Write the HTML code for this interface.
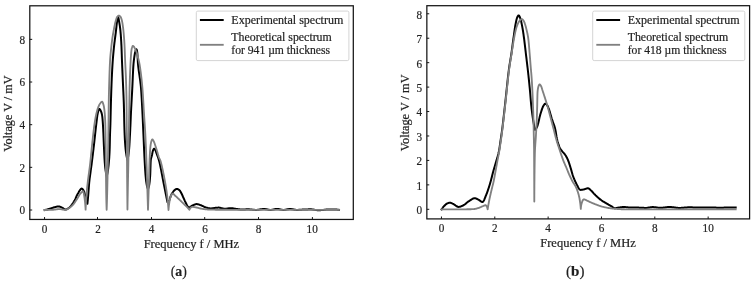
<!DOCTYPE html>
<html lang="en"><head><meta charset="utf-8"><title>Spectra</title>
<style>html,body{margin:0;padding:0;background:#fff}svg{display:block}text{stroke:#1f1f1f;stroke-width:.2px}</style></head>
<body>
<svg width="754" height="283" viewBox="0 0 754 283" font-family="'Liberation Serif', 'DejaVu Serif', serif" fill="#1f1f1f">
<rect x="0" y="0" width="754" height="283" fill="#ffffff"/>
<g id="plot-a">
<g fill="none" stroke-linejoin="round" stroke-linecap="square">
<path d="M44.65 210.00L45.10 209.90L45.56 209.81L46.01 209.71L46.46 209.60L46.91 209.50L47.35 209.39L47.80 209.28L48.24 209.17L48.68 209.05L49.12 208.94L49.56 208.82L50.00 208.70L50.43 208.58L50.85 208.44L51.28 208.30L51.71 208.16L52.14 208.01L52.56 207.86L52.98 207.71L53.40 207.57L53.81 207.44L54.21 207.31L54.61 207.20L55.00 207.10L55.32 207.02L55.63 206.94L55.94 206.86L56.24 206.78L56.55 206.71L56.84 206.64L57.14 206.57L57.43 206.51L57.72 206.47L58.02 206.43L58.31 206.41L58.60 206.40L58.89 206.41L59.18 206.46L59.46 206.52L59.75 206.60L60.03 206.71L60.31 206.82L60.60 206.94L60.88 207.08L61.16 207.21L61.44 207.34L61.72 207.48L62.00 207.60L62.29 207.74L62.59 207.92L62.88 208.11L63.17 208.32L63.46 208.53L63.75 208.74L64.04 208.94L64.33 209.12L64.62 209.27L64.92 209.39L65.21 209.47L65.50 209.50L65.79 209.48L66.08 209.43L66.37 209.35L66.66 209.24L66.96 209.10L67.25 208.95L67.54 208.78L67.83 208.59L68.13 208.40L68.42 208.20L68.71 208.00L69.00 207.80L69.42 207.48L69.85 207.10L70.28 206.66L70.72 206.17L71.16 205.64L71.59 205.08L72.02 204.50L72.44 203.90L72.85 203.29L73.25 202.69L73.63 202.09L74.00 201.50L74.37 200.87L74.73 200.21L75.07 199.52L75.40 198.82L75.72 198.10L76.04 197.38L76.35 196.67L76.67 195.96L76.99 195.27L77.32 194.61L77.65 193.99L78.00 193.40L78.30 192.92L78.60 192.40L78.91 191.87L79.23 191.33L79.55 190.81L79.87 190.31L80.20 189.84L80.51 189.43L80.82 189.09L81.13 188.83L81.42 188.66L81.70 188.60L81.91 188.63L82.12 188.72L82.34 188.87L82.54 189.06L82.75 189.29L82.95 189.55L83.15 189.84L83.34 190.14L83.52 190.46L83.69 190.78L83.85 191.09L84.00 191.40L84.21 191.88L84.40 192.44L84.59 193.05L84.76 193.71L84.92 194.41L85.08 195.13L85.24 195.85L85.39 196.58L85.54 197.29L85.69 197.97L85.84 198.61L86.00 199.20L86.12 199.63L86.24 200.05L86.36 200.46L86.48 200.87L86.60 201.26L86.72 201.65L86.83 202.03L86.95 202.40L87.06 202.77L87.18 203.12L87.29 203.46L87.40 203.80L87.47 203.18L87.53 202.54L87.60 201.89L87.67 201.23L87.73 200.56L87.80 199.87L87.87 199.17L87.93 198.46L88.00 197.74L88.07 197.00L88.13 196.26L88.20 195.50L88.28 194.54L88.36 193.56L88.43 192.55L88.51 191.52L88.58 190.47L88.66 189.40L88.74 188.32L88.82 187.22L88.91 186.11L89.00 184.98L89.09 183.84L89.20 182.70L89.34 181.32L89.50 179.91L89.67 178.47L89.86 177.00L90.06 175.51L90.27 174.01L90.48 172.50L90.69 170.98L90.90 169.47L91.11 167.96L91.31 166.47L91.50 165.00L91.68 163.58L91.86 162.18L92.03 160.79L92.20 159.41L92.38 158.04L92.55 156.66L92.72 155.27L92.89 153.86L93.07 152.44L93.24 150.99L93.42 149.52L93.60 148.00L93.82 146.12L94.05 144.13L94.28 142.06L94.51 139.93L94.74 137.78L94.98 135.62L95.21 133.48L95.44 131.39L95.67 129.37L95.89 127.45L96.10 125.65L96.30 124.00L96.43 122.97L96.54 121.97L96.65 120.99L96.76 120.03L96.87 119.11L96.97 118.21L97.08 117.34L97.19 116.50L97.30 115.70L97.43 114.93L97.56 114.20L97.70 113.50L97.80 113.02L97.92 112.52L98.04 112.01L98.16 111.49L98.29 110.99L98.43 110.51L98.57 110.07L98.71 109.68L98.85 109.36L99.00 109.11L99.15 108.96L99.30 108.90L99.40 108.92L99.51 108.97L99.61 109.05L99.73 109.16L99.84 109.29L99.96 109.44L100.07 109.61L100.18 109.78L100.29 109.96L100.40 110.14L100.50 110.32L100.60 110.50L100.75 110.78L100.89 111.10L101.04 111.44L101.18 111.81L101.32 112.20L101.46 112.61L101.59 113.04L101.71 113.48L101.82 113.92L101.93 114.38L102.02 114.84L102.10 115.30L102.19 115.91L102.28 116.54L102.35 117.18L102.43 117.84L102.49 118.53L102.55 119.23L102.61 119.95L102.67 120.71L102.73 121.48L102.78 122.29L102.84 123.13L102.90 124.00L103.00 125.58L103.10 127.37L103.20 129.31L103.29 131.38L103.39 133.54L103.48 135.75L103.57 137.97L103.66 140.17L103.75 142.31L103.84 144.35L103.92 146.26L104.00 148.00L104.05 149.14L104.11 150.24L104.15 151.31L104.20 152.35L104.25 153.36L104.29 154.35L104.34 155.32L104.39 156.27L104.44 157.22L104.49 158.15L104.54 159.07L104.60 160.00L104.65 160.80L104.71 161.58L104.77 162.36L104.82 163.13L104.89 163.88L104.95 164.63L105.02 165.38L105.09 166.11L105.16 166.84L105.23 167.57L105.32 168.29L105.40 169.00L105.48 169.65L105.57 170.30L105.67 170.94L105.77 171.58L105.88 172.21L105.99 172.84L106.11 173.46L106.23 174.08L106.35 174.69L106.48 175.30L106.61 175.90L106.75 176.50L106.87 175.97L106.99 175.44L107.11 174.90L107.22 174.36L107.33 173.83L107.44 173.28L107.54 172.74L107.64 172.20L107.74 171.65L107.83 171.10L107.92 170.55L108.00 170.00L108.08 169.43L108.16 168.86L108.23 168.28L108.30 167.71L108.37 167.13L108.44 166.55L108.51 165.97L108.57 165.38L108.63 164.79L108.69 164.20L108.74 163.60L108.80 163.00L108.86 162.35L108.92 161.69L108.97 161.03L109.03 160.35L109.08 159.68L109.14 159.00L109.19 158.32L109.23 157.65L109.28 156.98L109.32 156.31L109.36 155.65L109.40 155.00L109.43 154.41L109.46 153.83L109.49 153.27L109.52 152.71L109.54 152.15L109.57 151.60L109.59 151.04L109.61 150.47L109.64 149.88L109.66 149.28L109.68 148.65L109.70 148.00L109.73 147.06L109.75 146.06L109.78 145.02L109.80 143.93L109.83 142.82L109.85 141.69L109.87 140.55L109.90 139.41L109.92 138.27L109.94 137.15L109.97 136.06L110.00 135.00L110.03 134.06L110.06 133.16L110.09 132.28L110.12 131.41L110.16 130.55L110.19 129.69L110.23 128.82L110.26 127.92L110.30 127.00L110.33 126.05L110.37 125.05L110.40 124.00L110.45 122.33L110.50 120.54L110.55 118.63L110.59 116.64L110.64 114.58L110.69 112.47L110.74 110.33L110.79 108.20L110.84 106.07L110.89 103.98L110.94 101.95L111.00 100.00L111.05 98.27L111.10 96.56L111.16 94.87L111.21 93.20L111.26 91.54L111.32 89.89L111.38 88.24L111.44 86.60L111.50 84.96L111.56 83.31L111.63 81.66L111.70 80.00L111.77 78.32L111.85 76.63L111.93 74.93L112.01 73.22L112.10 71.52L112.19 69.81L112.29 68.12L112.38 66.45L112.48 64.79L112.59 63.16L112.69 61.56L112.80 60.00L112.90 58.67L113.00 57.37L113.11 56.08L113.22 54.81L113.33 53.56L113.45 52.32L113.57 51.08L113.69 49.86L113.81 48.64L113.94 47.43L114.07 46.21L114.20 45.00L114.33 43.84L114.46 42.68L114.61 41.52L114.75 40.36L114.90 39.20L115.05 38.05L115.20 36.92L115.35 35.79L115.50 34.69L115.64 33.60L115.77 32.54L115.90 31.50L116.00 30.64L116.10 29.79L116.19 28.94L116.28 28.10L116.37 27.27L116.45 26.45L116.54 25.66L116.63 24.88L116.71 24.12L116.81 23.38L116.90 22.68L117.00 22.00L117.08 21.49L117.15 20.94L117.23 20.38L117.31 19.81L117.39 19.25L117.48 18.72L117.56 18.23L117.65 17.79L117.73 17.42L117.82 17.14L117.91 16.96L118.00 16.90L118.09 16.96L118.19 17.14L118.29 17.42L118.39 17.79L118.50 18.22L118.60 18.72L118.71 19.25L118.81 19.81L118.91 20.38L119.01 20.94L119.11 21.49L119.20 22.00L119.32 22.68L119.44 23.38L119.56 24.12L119.68 24.87L119.80 25.65L119.91 26.45L120.02 27.27L120.13 28.10L120.23 28.94L120.33 29.79L120.42 30.64L120.50 31.50L120.59 32.54L120.68 33.60L120.77 34.68L120.85 35.79L120.93 36.91L121.01 38.05L121.08 39.20L121.15 40.36L121.22 41.52L121.28 42.68L121.34 43.84L121.40 45.00L121.46 46.22L121.51 47.43L121.55 48.64L121.60 49.86L121.64 51.09L121.68 52.32L121.72 53.56L121.77 54.81L121.81 56.08L121.85 57.37L121.90 58.67L121.95 60.00L122.01 61.56L122.08 63.13L122.14 64.73L122.21 66.35L122.28 68.00L122.35 69.66L122.43 71.34L122.50 73.04L122.57 74.75L122.65 76.48L122.72 78.23L122.80 80.00L122.89 82.06L122.99 84.19L123.09 86.37L123.19 88.59L123.29 90.83L123.40 93.09L123.50 95.34L123.59 97.57L123.68 99.76L123.77 101.91L123.84 103.99L123.90 106.00L123.94 107.62L123.98 109.21L124.02 110.78L124.05 112.32L124.08 113.84L124.11 115.34L124.14 116.82L124.17 118.29L124.20 119.74L124.23 121.17L124.26 122.59L124.30 124.00L124.33 125.23L124.37 126.46L124.41 127.68L124.44 128.88L124.48 130.08L124.52 131.26L124.56 132.43L124.61 133.58L124.65 134.71L124.70 135.83L124.75 136.92L124.80 138.00L124.85 138.90L124.89 139.78L124.94 140.66L125.00 141.52L125.05 142.38L125.11 143.22L125.17 144.05L125.23 144.86L125.30 145.67L125.36 146.46L125.43 147.24L125.50 148.00L125.56 148.63L125.63 149.25L125.69 149.87L125.76 150.47L125.83 151.07L125.91 151.65L125.99 152.23L126.06 152.80L126.15 153.37L126.23 153.92L126.31 154.46L126.40 155.00L126.48 155.45L126.55 155.89L126.63 156.33L126.72 156.76L126.80 157.19L126.89 157.61L126.98 158.02L127.07 158.43L127.16 158.83L127.26 159.23L127.35 159.62L127.45 160.00L127.54 159.62L127.63 159.23L127.71 158.83L127.80 158.43L127.88 158.02L127.96 157.61L128.04 157.19L128.12 156.76L128.19 156.33L128.26 155.89L128.33 155.45L128.40 155.00L128.48 154.46L128.55 153.92L128.63 153.37L128.70 152.80L128.77 152.23L128.84 151.65L128.91 151.07L128.97 150.47L129.03 149.87L129.09 149.25L129.15 148.63L129.20 148.00L129.26 147.23L129.32 146.45L129.37 145.65L129.42 144.84L129.47 144.01L129.52 143.17L129.57 142.32L129.61 141.47L129.66 140.61L129.71 139.74L129.75 138.87L129.80 138.00L129.85 137.04L129.90 136.07L129.95 135.10L130.01 134.12L130.06 133.13L130.11 132.13L130.16 131.12L130.21 130.11L130.25 129.09L130.30 128.07L130.35 127.04L130.40 126.00L130.45 124.88L130.50 123.77L130.55 122.66L130.59 121.55L130.64 120.42L130.69 119.29L130.73 118.14L130.78 116.97L130.83 115.78L130.88 114.55L130.94 113.29L131.00 112.00L131.09 110.23L131.18 108.39L131.28 106.47L131.39 104.49L131.50 102.47L131.62 100.42L131.73 98.34L131.85 96.25L131.97 94.16L132.08 92.08L132.19 90.02L132.30 88.00L132.40 85.97L132.50 83.87L132.59 81.74L132.68 79.59L132.77 77.44L132.86 75.31L132.96 73.22L133.05 71.19L133.16 69.23L133.26 67.36L133.38 65.62L133.50 64.00L133.59 63.01L133.68 62.04L133.78 61.09L133.89 60.17L134.00 59.27L134.11 58.41L134.22 57.57L134.34 56.78L134.46 56.02L134.57 55.30L134.69 54.63L134.80 54.00L134.86 53.64L134.93 53.30L134.99 52.96L135.05 52.63L135.11 52.31L135.17 52.01L135.24 51.72L135.30 51.44L135.37 51.18L135.44 50.94L135.52 50.71L135.60 50.50L135.66 50.37L135.72 50.23L135.78 50.10L135.85 49.96L135.92 49.83L135.99 49.71L136.07 49.60L136.14 49.50L136.21 49.42L136.28 49.35L136.34 49.31L136.40 49.30L136.48 49.33L136.56 49.42L136.63 49.56L136.71 49.74L136.78 49.96L136.85 50.21L136.92 50.48L136.98 50.78L137.04 51.08L137.10 51.39L137.15 51.70L137.20 52.00L137.29 52.66L137.36 53.41L137.43 54.25L137.49 55.16L137.55 56.14L137.60 57.18L137.65 58.25L137.71 59.37L137.77 60.51L137.84 61.67L137.91 62.84L138.00 64.00L138.16 65.70L138.36 67.50L138.60 69.40L138.87 71.36L139.16 73.39L139.46 75.46L139.76 77.56L140.06 79.68L140.34 81.79L140.59 83.90L140.82 85.97L141.00 88.00L141.15 90.00L141.30 92.00L141.43 93.99L141.55 95.99L141.67 97.99L141.78 99.99L141.89 102.00L142.00 104.00L142.10 106.00L142.20 108.00L142.30 110.00L142.40 112.00L142.50 114.00L142.60 116.00L142.69 118.00L142.79 120.00L142.88 122.00L142.97 124.00L143.06 126.00L143.14 128.00L143.23 130.00L143.32 132.00L143.41 134.00L143.50 136.00L143.59 138.01L143.68 140.04L143.77 142.08L143.86 144.13L143.95 146.18L144.03 148.22L144.12 150.25L144.21 152.26L144.31 154.25L144.40 156.20L144.50 158.12L144.60 160.00L144.69 161.61L144.78 163.23L144.87 164.86L144.96 166.47L145.05 168.07L145.15 169.64L145.25 171.17L145.35 172.66L145.46 174.10L145.57 175.47L145.68 176.78L145.80 178.00L145.88 178.78L145.97 179.55L146.06 180.31L146.15 181.04L146.25 181.76L146.35 182.45L146.45 183.12L146.56 183.76L146.66 184.37L146.77 184.95L146.89 185.49L147.00 186.00L147.07 186.30L147.15 186.60L147.23 186.88L147.31 187.16L147.39 187.42L147.47 187.68L147.56 187.93L147.64 188.16L147.73 188.39L147.82 188.60L147.91 188.81L148.00 189.00L148.12 188.74L148.23 188.46L148.35 188.17L148.46 187.87L148.57 187.56L148.67 187.23L148.77 186.88L148.87 186.53L148.96 186.17L149.04 185.79L149.13 185.40L149.20 185.00L149.31 184.35L149.41 183.64L149.51 182.89L149.61 182.11L149.70 181.28L149.78 180.43L149.86 179.56L149.94 178.66L150.01 177.75L150.08 176.84L150.14 175.92L150.20 175.00L150.26 173.83L150.32 172.57L150.36 171.25L150.40 169.88L150.44 168.49L150.48 167.10L150.52 165.73L150.56 164.41L150.61 163.15L150.66 161.98L150.73 160.93L150.80 160.00L150.85 159.54L150.92 159.12L151.00 158.71L151.09 158.33L151.18 157.97L151.28 157.62L151.39 157.27L151.50 156.93L151.60 156.59L151.71 156.24L151.81 155.88L151.90 155.50L151.99 155.08L152.08 154.65L152.16 154.20L152.25 153.74L152.33 153.28L152.42 152.83L152.50 152.38L152.59 151.95L152.68 151.54L152.78 151.16L152.89 150.81L153.00 150.50L153.08 150.31L153.17 150.10L153.26 149.90L153.36 149.70L153.46 149.50L153.56 149.32L153.67 149.15L153.78 149.00L153.88 148.87L153.99 148.78L154.10 148.72L154.20 148.70L154.29 148.72L154.38 148.76L154.48 148.83L154.57 148.92L154.67 149.02L154.76 149.14L154.86 149.28L154.95 149.42L155.04 149.57L155.13 149.71L155.22 149.86L155.30 150.00L155.42 150.21L155.53 150.45L155.64 150.70L155.74 150.97L155.85 151.26L155.95 151.55L156.05 151.86L156.15 152.18L156.26 152.50L156.37 152.83L156.48 153.17L156.60 153.50L156.77 153.96L156.94 154.42L157.13 154.89L157.31 155.38L157.50 155.88L157.70 156.40L157.90 156.94L158.10 157.49L158.30 158.08L158.50 158.69L158.70 159.33L158.90 160.00L159.27 161.38L159.66 162.99L160.06 164.79L160.47 166.73L160.88 168.77L161.29 170.88L161.70 173.00L162.09 175.11L162.47 177.15L162.84 179.09L163.18 180.89L163.50 182.50L163.70 183.51L163.90 184.47L164.08 185.40L164.26 186.29L164.43 187.17L164.60 188.02L164.77 188.86L164.93 189.68L165.10 190.51L165.26 191.33L165.43 192.16L165.60 193.00L165.76 193.80L165.92 194.59L166.08 195.38L166.24 196.16L166.40 196.94L166.56 197.72L166.72 198.49L166.87 199.26L167.03 200.03L167.19 200.79L167.34 201.55L167.50 202.30L167.61 202.25L167.72 202.19L167.83 202.12L167.94 202.05L168.04 201.97L168.14 201.89L168.24 201.80L168.34 201.71L168.43 201.61L168.53 201.51L168.61 201.41L168.70 201.30L168.82 201.14L168.93 200.95L169.03 200.74L169.13 200.52L169.23 200.28L169.33 200.04L169.43 199.78L169.52 199.52L169.62 199.26L169.71 199.00L169.80 198.75L169.90 198.50L170.00 198.23L170.10 197.96L170.20 197.68L170.29 197.40L170.39 197.12L170.49 196.83L170.58 196.55L170.68 196.27L170.78 195.99L170.88 195.72L170.99 195.46L171.10 195.20L171.20 194.98L171.31 194.76L171.41 194.54L171.52 194.33L171.64 194.12L171.75 193.92L171.87 193.71L171.99 193.51L172.11 193.31L172.24 193.11L172.37 192.90L172.50 192.70L172.65 192.47L172.80 192.24L172.97 192.00L173.13 191.76L173.30 191.53L173.48 191.29L173.66 191.06L173.84 190.84L174.03 190.63L174.22 190.44L174.41 190.26L174.60 190.10L174.77 189.97L174.95 189.83L175.14 189.69L175.33 189.56L175.52 189.43L175.72 189.30L175.92 189.19L176.11 189.10L176.31 189.01L176.51 188.95L176.71 188.91L176.90 188.90L177.09 188.91L177.29 188.95L177.49 189.00L177.69 189.07L177.88 189.16L178.08 189.26L178.28 189.37L178.47 189.49L178.66 189.61L178.85 189.74L179.03 189.87L179.20 190.00L179.41 190.18L179.62 190.40L179.83 190.65L180.03 190.92L180.22 191.21L180.42 191.53L180.61 191.85L180.79 192.18L180.97 192.52L181.15 192.85L181.33 193.18L181.50 193.50L181.68 193.84L181.86 194.19L182.02 194.54L182.19 194.90L182.35 195.26L182.51 195.63L182.67 196.00L182.83 196.38L182.99 196.76L183.16 197.14L183.33 197.52L183.50 197.90L183.70 198.33L183.89 198.76L184.09 199.21L184.29 199.66L184.50 200.11L184.70 200.57L184.91 201.02L185.12 201.47L185.34 201.92L185.56 202.35L185.78 202.78L186.00 203.20L186.21 203.61L186.42 204.05L186.63 204.52L186.84 205.00L187.06 205.47L187.28 205.92L187.50 206.35L187.73 206.73L187.97 207.04L188.22 207.29L188.48 207.44L188.75 207.50L189.01 207.47L189.29 207.39L189.58 207.26L189.88 207.10L190.19 206.91L190.51 206.70L190.84 206.48L191.17 206.26L191.51 206.04L191.84 205.84L192.17 205.65L192.50 205.50L192.83 205.36L193.16 205.20L193.50 205.05L193.84 204.89L194.18 204.74L194.52 204.59L194.86 204.46L195.21 204.34L195.55 204.24L195.90 204.17L196.25 204.12L196.60 204.10L196.96 204.11L197.32 204.15L197.68 204.22L198.05 204.30L198.41 204.40L198.78 204.51L199.15 204.64L199.51 204.77L199.88 204.90L200.25 205.04L200.63 205.17L201.00 205.30L201.41 205.45L201.82 205.62L202.23 205.81L202.65 206.02L203.06 206.23L203.48 206.44L203.90 206.65L204.32 206.86L204.74 207.05L205.16 207.22L205.58 207.38L206.00 207.50L206.41 207.61L206.81 207.71L207.23 207.82L207.64 207.92L208.05 208.02L208.47 208.11L208.88 208.19L209.29 208.26L209.70 208.32L210.11 208.36L210.51 208.39L210.90 208.40L211.25 208.39L211.60 208.37L211.95 208.34L212.30 208.30L212.64 208.25L212.98 208.20L213.32 208.14L213.66 208.09L213.99 208.03L214.33 207.98L214.66 207.94L215.00 207.90L215.32 207.87L215.65 207.84L215.97 207.80L216.29 207.77L216.61 207.73L216.93 207.70L217.25 207.68L217.57 207.65L217.88 207.63L218.19 207.61L218.50 207.60L218.80 207.60L219.08 207.61L219.35 207.64L219.62 207.68L219.89 207.74L220.15 207.80L220.42 207.88L220.68 207.95L220.94 208.03L221.21 208.11L221.47 208.18L221.73 208.25L222.00 208.30L222.27 208.35L222.53 208.40L222.80 208.46L223.07 208.52L223.34 208.57L223.61 208.62L223.88 208.67L224.15 208.71L224.41 208.75L224.68 208.78L224.94 208.79L225.20 208.80L225.44 208.79L225.67 208.78L225.91 208.75L226.14 208.71L226.36 208.67L226.59 208.63L226.82 208.59L227.05 208.54L227.28 208.50L227.52 208.46L227.76 208.43L228.00 208.40L228.28 208.38L228.55 208.35L228.84 208.33L229.12 208.31L229.41 208.29L229.70 208.27L229.99 208.25L230.29 208.23L230.59 208.22L230.89 208.21L231.19 208.20L231.50 208.20L231.85 208.21L232.21 208.24L232.57 208.28L232.94 208.34L233.30 208.40L233.68 208.48L234.05 208.55L234.43 208.63L234.82 208.71L235.21 208.78L235.60 208.84L236.00 208.90L236.47 208.96L236.95 209.02L237.44 209.09L237.93 209.16L238.44 209.22L238.94 209.29L239.45 209.34L239.97 209.40L240.48 209.44L240.99 209.47L241.50 209.49L242.00 209.50L242.50 209.50L242.99 209.49L243.48 209.47L243.97 209.45L244.46 209.42L244.95 209.40L245.44 209.38L245.94 209.35L246.44 209.33L246.95 209.31L247.47 209.30L248.00 209.30L248.63 209.31L249.27 209.34L249.92 209.39L250.58 209.46L251.25 209.53L251.93 209.60L252.61 209.67L253.29 209.74L253.97 209.81L254.65 209.86L255.33 209.89L256.00 209.90L256.67 209.88L257.34 209.83L258.02 209.76L258.70 209.67L259.38 209.56L260.05 209.45L260.73 209.34L261.40 209.23L262.06 209.14L262.72 209.07L263.36 209.02L264.00 209.00L264.57 209.02L265.12 209.07L265.67 209.14L266.22 209.23L266.76 209.34L267.29 209.45L267.83 209.56L268.36 209.67L268.89 209.76L269.42 209.83L269.96 209.88L270.50 209.90L271.04 209.88L271.58 209.83L272.13 209.74L272.67 209.64L273.21 209.52L273.75 209.40L274.29 209.28L274.83 209.16L275.38 209.06L275.92 208.97L276.46 208.92L277.00 208.90L277.54 208.92L278.08 208.97L278.62 209.06L279.17 209.16L279.71 209.28L280.25 209.40L280.79 209.52L281.33 209.64L281.87 209.74L282.42 209.83L282.96 209.88L283.50 209.90L284.04 209.88L284.58 209.83L285.12 209.76L285.66 209.67L286.20 209.56L286.73 209.45L287.27 209.34L287.82 209.23L288.36 209.14L288.90 209.07L289.45 209.02L290.00 209.00L290.57 209.02L291.15 209.07L291.73 209.14L292.31 209.23L292.90 209.34L293.48 209.45L294.07 209.56L294.66 209.67L295.24 209.76L295.83 209.83L296.42 209.88L297.00 209.90L297.58 209.89L298.17 209.88L298.75 209.85L299.34 209.81L299.92 209.77L300.51 209.73L301.09 209.68L301.68 209.64L302.26 209.59L302.84 209.56L303.42 209.52L304.00 209.50L304.56 209.48L305.12 209.46L305.67 209.45L306.22 209.43L306.78 209.41L307.33 209.40L307.88 209.38L308.43 209.37L308.99 209.36L309.55 209.36L310.12 209.35L310.70 209.35L311.33 209.37L311.96 209.41L312.60 209.48L313.23 209.57L313.88 209.67L314.52 209.77L315.18 209.88L315.84 209.98L316.51 210.07L317.19 210.14L317.89 210.18L318.60 210.20L319.48 210.18L320.39 210.14L321.33 210.07L322.29 209.99L323.27 209.90L324.25 209.80L325.24 209.70L326.22 209.61L327.20 209.53L328.15 209.46L329.09 209.42L330.00 209.40L330.79 209.40L331.57 209.41L332.35 209.42L333.12 209.44L333.88 209.46L334.63 209.48L335.38 209.52L336.12 209.56L336.85 209.61L337.57 209.66L338.29 209.73L339.00 209.80" stroke="#000000" stroke-width="2.0"/>
<path d="M44.65 210.00L45.26 210.00L45.87 209.99L46.48 209.98L47.09 209.97L47.71 209.96L48.32 209.94L48.93 209.92L49.54 209.90L50.16 209.87L50.77 209.85L51.39 209.83L52.00 209.80L52.63 209.76L53.28 209.71L53.94 209.65L54.61 209.57L55.27 209.49L55.93 209.41L56.58 209.33L57.22 209.26L57.83 209.19L58.42 209.14L58.98 209.11L59.50 209.10L59.84 209.11L60.16 209.13L60.48 209.16L60.78 209.19L61.08 209.24L61.37 209.29L61.65 209.34L61.93 209.40L62.20 209.45L62.47 209.51L62.74 209.56L63.00 209.60L63.22 209.63L63.43 209.67L63.64 209.70L63.85 209.73L64.05 209.77L64.26 209.80L64.45 209.83L64.65 209.87L64.84 209.90L65.03 209.93L65.22 209.97L65.40 210.00L66.04 209.72L66.67 209.41L67.29 209.10L67.90 208.76L68.49 208.41L69.06 208.05L69.63 207.67L70.17 207.28L70.71 206.88L71.22 206.46L71.72 206.04L72.20 205.60L72.67 205.14L73.12 204.64L73.57 204.11L73.99 203.55L74.41 202.98L74.82 202.39L75.21 201.80L75.60 201.20L75.98 200.61L76.36 200.03L76.73 199.45L77.10 198.90L77.43 198.40L77.74 197.89L78.05 197.36L78.36 196.83L78.66 196.30L78.95 195.78L79.25 195.28L79.54 194.80L79.83 194.34L80.12 193.92L80.41 193.54L80.70 193.20L80.90 192.99L81.11 192.77L81.32 192.55L81.54 192.34L81.76 192.13L81.97 191.94L82.17 191.76L82.37 191.61L82.55 191.48L82.72 191.38L82.87 191.32L83.00 191.30L83.15 191.36L83.29 191.54L83.42 191.82L83.54 192.18L83.65 192.62L83.75 193.11L83.85 193.65L83.95 194.22L84.04 194.80L84.13 195.39L84.21 195.96L84.30 196.50L84.43 197.35L84.56 198.24L84.69 199.18L84.81 200.17L84.93 201.20L85.05 202.27L85.15 203.39L85.26 204.55L85.35 205.75L85.44 206.99L85.53 208.28L85.60 209.60L85.66 208.33L85.72 207.08L85.79 205.83L85.86 204.59L85.93 203.36L86.00 202.14L86.08 200.93L86.16 199.72L86.24 198.53L86.33 197.34L86.41 196.17L86.50 195.00L86.58 193.94L86.67 192.91L86.76 191.90L86.85 190.90L86.94 189.91L87.04 188.92L87.14 187.92L87.24 186.92L87.35 185.90L87.46 184.86L87.58 183.80L87.70 182.70L87.85 181.35L88.02 179.97L88.20 178.57L88.39 177.15L88.59 175.71L88.79 174.24L88.99 172.75L89.20 171.24L89.41 169.71L89.61 168.16L89.81 166.59L90.00 165.00L90.22 163.06L90.44 161.05L90.66 158.97L90.87 156.85L91.09 154.70L91.30 152.54L91.52 150.37L91.73 148.21L91.95 146.08L92.16 143.99L92.38 141.96L92.60 140.00L92.79 138.35L92.97 136.70L93.16 135.06L93.34 133.44L93.52 131.84L93.71 130.26L93.90 128.71L94.09 127.19L94.28 125.70L94.48 124.26L94.69 122.85L94.90 121.50L95.07 120.48L95.24 119.47L95.42 118.48L95.59 117.51L95.78 116.55L95.96 115.62L96.15 114.71L96.35 113.82L96.55 112.96L96.76 112.11L96.98 111.29L97.20 110.50L97.38 109.88L97.57 109.26L97.77 108.65L97.98 108.04L98.19 107.45L98.40 106.87L98.62 106.32L98.85 105.78L99.08 105.28L99.32 104.82L99.56 104.39L99.80 104.00L99.97 103.75L100.16 103.49L100.36 103.22L100.56 102.96L100.76 102.71L100.97 102.48L101.18 102.26L101.37 102.08L101.57 101.92L101.75 101.80L101.91 101.73L102.06 101.70L102.19 101.73L102.31 101.82L102.43 101.96L102.54 102.14L102.65 102.35L102.76 102.59L102.86 102.85L102.96 103.13L103.05 103.41L103.14 103.68L103.22 103.95L103.30 104.20L103.39 104.51L103.48 104.82L103.57 105.14L103.65 105.48L103.73 105.82L103.81 106.18L103.88 106.54L103.95 106.91L104.01 107.29L104.08 107.69L104.14 108.09L104.20 108.50L104.28 109.10L104.36 109.73L104.44 110.38L104.52 111.07L104.59 111.77L104.66 112.49L104.73 113.23L104.79 113.97L104.85 114.73L104.91 115.48L104.96 116.24L105.00 117.00L105.05 117.86L105.09 118.71L105.13 119.57L105.17 120.44L105.20 121.32L105.23 122.22L105.27 123.12L105.29 124.05L105.32 125.00L105.35 125.97L105.38 126.97L105.40 128.00L105.43 129.44L105.46 130.95L105.49 132.52L105.52 134.14L105.54 135.80L105.57 137.50L105.59 139.23L105.61 140.97L105.63 142.73L105.66 144.49L105.68 146.25L105.70 148.00L105.72 149.92L105.75 151.87L105.77 153.84L105.79 155.84L105.81 157.84L105.83 159.86L105.85 161.89L105.87 163.92L105.89 165.95L105.91 167.97L105.93 169.99L105.95 172.00L105.97 174.02L105.99 176.08L106.02 178.16L106.04 180.25L106.06 182.35L106.09 184.43L106.11 186.49L106.14 188.51L106.16 190.48L106.19 192.40L106.22 194.24L106.25 196.00L106.28 197.29L106.30 198.55L106.33 199.79L106.36 201.01L106.39 202.20L106.43 203.36L106.46 204.50L106.50 205.61L106.53 206.70L106.57 207.76L106.61 208.79L106.65 209.80L106.69 208.79L106.73 207.76L106.77 206.70L106.80 205.61L106.84 204.50L106.88 203.36L106.92 202.20L106.95 201.01L106.99 199.79L107.03 198.55L107.06 197.29L107.10 196.00L107.15 194.24L107.19 192.40L107.24 190.48L107.29 188.51L107.33 186.49L107.38 184.43L107.43 182.35L107.47 180.25L107.52 178.16L107.56 176.08L107.61 174.02L107.65 172.00L107.69 170.00L107.74 168.00L107.78 166.00L107.83 164.00L107.87 162.00L107.91 160.00L107.96 158.00L108.00 156.00L108.04 154.00L108.08 152.00L108.11 150.00L108.15 148.00L108.18 146.00L108.22 144.00L108.25 142.00L108.28 140.00L108.31 138.00L108.34 136.00L108.36 134.00L108.39 132.00L108.42 130.00L108.45 128.00L108.47 126.00L108.50 124.00L108.53 121.99L108.55 119.97L108.57 117.95L108.60 115.92L108.62 113.89L108.64 111.86L108.66 109.84L108.69 107.84L108.71 105.84L108.74 103.87L108.77 101.92L108.80 100.00L108.83 98.27L108.86 96.56L108.90 94.87L108.94 93.20L108.98 91.54L109.02 89.89L109.06 88.24L109.11 86.60L109.15 84.96L109.20 83.31L109.25 81.66L109.30 80.00L109.35 78.32L109.41 76.61L109.46 74.88L109.52 73.14L109.58 71.40L109.65 69.67L109.71 67.96L109.78 66.27L109.86 64.63L109.94 63.03L110.02 61.48L110.10 60.00L110.17 58.89L110.25 57.82L110.33 56.77L110.42 55.74L110.51 54.74L110.60 53.75L110.70 52.77L110.80 51.81L110.90 50.85L111.00 49.90L111.10 48.95L111.20 48.00L111.29 47.13L111.39 46.25L111.48 45.38L111.58 44.52L111.68 43.65L111.78 42.80L111.88 41.96L111.98 41.13L112.08 40.32L112.19 39.53L112.29 38.75L112.40 38.00L112.49 37.42L112.57 36.85L112.65 36.31L112.74 35.79L112.83 35.27L112.91 34.76L113.00 34.24L113.09 33.72L113.19 33.20L113.29 32.65L113.39 32.09L113.50 31.50L113.65 30.70L113.81 29.84L113.97 28.93L114.15 28.00L114.33 27.04L114.52 26.08L114.71 25.13L114.91 24.21L115.11 23.32L115.31 22.48L115.50 21.70L115.70 21.00L115.83 20.58L115.95 20.16L116.07 19.74L116.20 19.34L116.32 18.95L116.45 18.57L116.58 18.21L116.71 17.88L116.85 17.56L116.99 17.28L117.14 17.02L117.30 16.80L117.41 16.66L117.53 16.52L117.65 16.38L117.77 16.25L117.90 16.12L118.04 16.00L118.17 15.89L118.31 15.79L118.44 15.71L118.58 15.65L118.72 15.61L118.85 15.60L118.99 15.61L119.13 15.65L119.28 15.71L119.42 15.79L119.57 15.88L119.72 15.99L119.86 16.12L120.00 16.25L120.14 16.38L120.27 16.52L120.39 16.66L120.50 16.80L120.65 17.02L120.80 17.27L120.94 17.56L121.08 17.87L121.21 18.21L121.34 18.57L121.46 18.94L121.57 19.33L121.69 19.74L121.79 20.15L121.90 20.58L122.00 21.00L122.15 21.69L122.30 22.43L122.44 23.23L122.58 24.06L122.71 24.94L122.84 25.84L122.96 26.77L123.08 27.71L123.19 28.66L123.30 29.61L123.40 30.56L123.50 31.50L123.60 32.56L123.70 33.64L123.80 34.73L123.89 35.84L123.98 36.96L124.07 38.09L124.15 39.23L124.23 40.38L124.30 41.53L124.37 42.69L124.44 43.84L124.50 45.00L124.56 46.21L124.62 47.43L124.67 48.64L124.72 49.86L124.77 51.09L124.81 52.32L124.86 53.56L124.90 54.81L124.95 56.08L125.00 57.37L125.05 58.67L125.10 60.00L125.17 61.56L125.24 63.16L125.32 64.79L125.40 66.45L125.48 68.13L125.57 69.82L125.65 71.52L125.73 73.22L125.81 74.93L125.88 76.63L125.94 78.32L126.00 80.00L126.05 81.65L126.10 83.26L126.15 84.85L126.20 86.43L126.25 88.01L126.29 89.60L126.33 91.21L126.37 92.86L126.40 94.55L126.44 96.30L126.47 98.11L126.50 100.00L126.54 102.83L126.57 105.83L126.61 108.99L126.64 112.27L126.67 115.65L126.69 119.10L126.72 122.61L126.75 126.13L126.77 129.66L126.80 133.17L126.82 136.62L126.85 140.00L126.88 143.35L126.90 146.74L126.93 150.14L126.95 153.56L126.98 156.98L127.00 160.38L127.02 163.77L127.05 167.12L127.07 170.43L127.10 173.69L127.12 176.88L127.15 180.00L127.17 182.63L127.20 185.24L127.22 187.81L127.25 190.35L127.27 192.87L127.29 195.35L127.32 197.80L127.35 200.22L127.37 202.61L127.40 204.97L127.42 207.30L127.45 209.60L127.49 207.56L127.52 205.51L127.56 203.47L127.59 201.42L127.63 199.37L127.67 197.32L127.71 195.27L127.75 193.22L127.78 191.17L127.82 189.11L127.86 187.06L127.90 185.00L127.94 182.92L127.98 180.84L128.02 178.75L128.07 176.66L128.11 174.57L128.15 172.48L128.20 170.39L128.24 168.30L128.28 166.22L128.32 164.14L128.36 162.07L128.40 160.00L128.44 157.98L128.47 155.97L128.51 153.97L128.54 151.96L128.57 149.97L128.61 147.97L128.64 145.98L128.67 143.98L128.70 141.99L128.73 139.99L128.77 138.00L128.80 136.00L128.83 134.00L128.87 132.00L128.90 130.00L128.93 128.00L128.97 126.00L129.00 124.00L129.03 122.00L129.07 120.00L129.10 118.00L129.13 116.00L129.17 114.00L129.20 112.00L129.23 110.00L129.26 108.00L129.29 106.00L129.32 104.00L129.35 102.00L129.38 100.00L129.41 98.00L129.44 96.00L129.48 94.00L129.52 92.00L129.56 90.00L129.60 88.00L129.65 85.97L129.71 83.89L129.77 81.78L129.84 79.65L129.92 77.52L130.00 75.41L130.08 73.33L130.17 71.30L130.25 69.34L130.34 67.46L130.42 65.67L130.50 64.00L130.55 62.91L130.61 61.84L130.66 60.79L130.71 59.77L130.77 58.78L130.82 57.82L130.88 56.88L130.94 55.98L131.00 55.11L131.06 54.27L131.13 53.47L131.20 52.70L131.25 52.19L131.30 51.69L131.36 51.19L131.42 50.70L131.48 50.23L131.54 49.77L131.61 49.33L131.68 48.91L131.75 48.51L131.83 48.14L131.91 47.81L132.00 47.50L132.06 47.33L132.12 47.14L132.18 46.96L132.25 46.78L132.33 46.61L132.40 46.44L132.48 46.29L132.56 46.16L132.65 46.05L132.73 45.97L132.82 45.92L132.90 45.90L132.97 45.91L133.04 45.93L133.11 45.97L133.19 46.02L133.27 46.07L133.35 46.14L133.43 46.21L133.51 46.29L133.58 46.37L133.66 46.45L133.73 46.52L133.80 46.60L133.88 46.69L133.96 46.79L134.03 46.90L134.11 47.01L134.18 47.13L134.25 47.26L134.32 47.39L134.39 47.52L134.47 47.66L134.54 47.80L134.62 47.95L134.70 48.10L134.84 48.35L134.98 48.62L135.13 48.91L135.29 49.22L135.45 49.54L135.61 49.87L135.77 50.22L135.92 50.57L136.08 50.92L136.23 51.28L136.37 51.64L136.50 52.00L136.64 52.42L136.78 52.85L136.91 53.28L137.04 53.73L137.17 54.19L137.29 54.65L137.41 55.12L137.53 55.59L137.64 56.06L137.76 56.54L137.88 57.02L138.00 57.50L138.13 58.01L138.26 58.51L138.38 59.00L138.51 59.49L138.63 59.98L138.76 60.49L138.88 61.01L139.00 61.54L139.13 62.11L139.25 62.70L139.37 63.33L139.50 64.00L139.75 65.43L140.00 67.05L140.26 68.85L140.53 70.78L140.80 72.83L141.06 74.97L141.32 77.17L141.57 79.39L141.80 81.61L142.02 83.81L142.22 85.95L142.40 88.00L142.56 90.00L142.71 92.00L142.84 94.00L142.97 96.00L143.09 98.00L143.21 100.00L143.32 102.00L143.44 104.00L143.55 106.00L143.66 108.00L143.78 110.00L143.90 112.00L144.03 114.00L144.16 116.00L144.29 118.00L144.42 120.00L144.56 122.00L144.69 124.00L144.82 126.00L144.94 128.00L145.07 130.00L145.18 132.00L145.30 134.00L145.40 136.00L145.50 138.00L145.59 140.00L145.68 142.00L145.77 144.00L145.86 146.00L145.94 148.00L146.02 150.00L146.10 152.00L146.17 154.00L146.25 156.00L146.33 158.00L146.40 160.00L146.47 162.00L146.54 163.99L146.61 165.98L146.68 167.97L146.75 169.96L146.81 171.95L146.88 173.94L146.94 175.94L147.01 177.94L147.07 179.95L147.13 181.97L147.20 184.00L147.27 186.11L147.34 188.23L147.40 190.36L147.47 192.50L147.54 194.64L147.60 196.78L147.67 198.94L147.74 201.10L147.80 203.26L147.87 205.44L147.93 207.61L148.00 209.80L148.04 208.57L148.08 207.34L148.13 206.11L148.17 204.88L148.21 203.65L148.25 202.41L148.29 201.18L148.33 199.94L148.38 198.71L148.42 197.47L148.46 196.24L148.50 195.00L148.54 193.76L148.58 192.53L148.62 191.31L148.67 190.09L148.71 188.86L148.75 187.64L148.79 186.40L148.83 185.16L148.87 183.90L148.92 182.62L148.96 181.32L149.00 180.00L149.05 178.42L149.10 176.78L149.14 175.08L149.19 173.36L149.24 171.61L149.28 169.85L149.33 168.11L149.38 166.38L149.43 164.70L149.49 163.06L149.54 161.49L149.60 160.00L149.65 158.89L149.70 157.79L149.74 156.70L149.80 155.64L149.85 154.60L149.90 153.58L149.96 152.58L150.02 151.61L150.09 150.66L150.15 149.74L150.22 148.86L150.30 148.00L150.36 147.38L150.42 146.76L150.49 146.15L150.56 145.54L150.64 144.95L150.72 144.37L150.81 143.82L150.90 143.29L150.99 142.79L151.09 142.32L151.19 141.89L151.30 141.50L151.37 141.27L151.45 141.04L151.53 140.80L151.61 140.56L151.70 140.33L151.80 140.12L151.89 139.92L151.99 139.75L152.09 139.60L152.20 139.49L152.30 139.42L152.40 139.40L152.51 139.42L152.62 139.50L152.73 139.61L152.85 139.75L152.97 139.93L153.09 140.12L153.21 140.34L153.33 140.57L153.45 140.81L153.57 141.04L153.69 141.28L153.80 141.50L153.97 141.85L154.14 142.22L154.30 142.62L154.46 143.04L154.62 143.48L154.79 143.95L154.95 144.43L155.11 144.92L155.28 145.43L155.45 145.94L155.62 146.47L155.80 147.00L156.06 147.81L156.34 148.71L156.64 149.70L156.94 150.73L157.24 151.79L157.55 152.86L157.85 153.91L158.15 154.91L158.44 155.84L158.71 156.69L158.97 157.41L159.20 158.00L159.29 158.21L159.38 158.39L159.47 158.56L159.55 158.71L159.62 158.85L159.70 158.98L159.78 159.12L159.85 159.26L159.93 159.41L160.02 159.58L160.11 159.78L160.20 160.00L160.55 161.01L160.96 162.41L161.40 164.15L161.88 166.16L162.37 168.36L162.87 170.71L163.36 173.13L163.84 175.55L164.30 177.91L164.72 180.15L165.09 182.20L165.40 184.00L165.59 185.13L165.77 186.21L165.95 187.24L166.11 188.24L166.27 189.22L166.41 190.18L166.56 191.12L166.69 192.07L166.83 193.02L166.95 193.99L167.08 194.98L167.20 196.00L167.33 197.12L167.45 198.25L167.58 199.39L167.70 200.54L167.81 201.70L167.92 202.86L168.03 204.03L168.13 205.21L168.23 206.39L168.33 207.59L168.42 208.79L168.50 210.00L168.56 209.10L168.64 208.23L168.72 207.37L168.80 206.53L168.90 205.71L169.00 204.90L169.10 204.12L169.21 203.36L169.33 202.61L169.45 201.89L169.57 201.18L169.70 200.50L169.80 199.97L169.91 199.44L170.02 198.90L170.14 198.37L170.27 197.85L170.40 197.35L170.53 196.87L170.68 196.41L170.82 195.99L170.98 195.61L171.14 195.28L171.30 195.00L171.40 194.85L171.51 194.70L171.62 194.55L171.74 194.40L171.86 194.26L171.99 194.13L172.12 194.01L172.25 193.90L172.39 193.82L172.52 193.75L172.66 193.71L172.80 193.70L172.98 193.72L173.16 193.79L173.34 193.90L173.53 194.04L173.72 194.21L173.92 194.40L174.12 194.61L174.33 194.83L174.54 195.05L174.75 195.27L174.97 195.49L175.20 195.70L175.54 196.00L175.91 196.33L176.29 196.68L176.68 197.04L177.08 197.42L177.50 197.81L177.92 198.20L178.34 198.61L178.76 199.01L179.18 199.41L179.59 199.81L180.00 200.20L180.42 200.60L180.85 201.02L181.28 201.43L181.71 201.86L182.15 202.28L182.58 202.71L183.01 203.13L183.43 203.55L183.84 203.95L184.24 204.35L184.63 204.73L185.00 205.10L185.28 205.38L185.56 205.65L185.83 205.92L186.10 206.18L186.37 206.44L186.63 206.69L186.88 206.94L187.13 207.18L187.36 207.42L187.59 207.65L187.80 207.88L188.00 208.10L188.14 208.26L188.27 208.41L188.40 208.56L188.53 208.71L188.66 208.85L188.77 209.00L188.89 209.14L189.00 209.28L189.11 209.41L189.21 209.54L189.31 209.67L189.40 209.80L189.49 209.56L189.58 209.32L189.68 209.10L189.79 208.88L189.90 208.67L190.02 208.48L190.14 208.30L190.26 208.13L190.39 207.97L190.53 207.83L190.66 207.71L190.80 207.60L190.92 207.52L191.05 207.43L191.19 207.35L191.33 207.27L191.47 207.19L191.62 207.12L191.77 207.06L191.93 207.01L192.09 206.96L192.26 206.93L192.43 206.91L192.60 206.90L192.84 206.91L193.09 206.92L193.34 206.95L193.61 206.98L193.89 207.02L194.17 207.07L194.46 207.12L194.76 207.17L195.06 207.23L195.37 207.29L195.68 207.34L196.00 207.40L196.44 207.48L196.89 207.59L197.36 207.70L197.84 207.83L198.33 207.96L198.84 208.09L199.35 208.23L199.87 208.36L200.40 208.49L200.93 208.61L201.46 208.71L202.00 208.80L202.61 208.89L203.22 208.98L203.83 209.07L204.45 209.15L205.08 209.23L205.72 209.31L206.37 209.38L207.04 209.44L207.74 209.49L208.46 209.54L209.21 209.57L210.00 209.60L211.32 209.63L212.73 209.66L214.24 209.68L215.81 209.71L217.46 209.73L219.16 209.75L220.91 209.76L222.69 209.78L224.50 209.79L226.33 209.79L228.17 209.80L230.00 209.80L232.27 209.80L234.59 209.80L236.96 209.80L239.38 209.80L241.84 209.80L244.35 209.80L246.89 209.80L249.46 209.80L252.06 209.80L254.68 209.80L257.33 209.80L260.00 209.80L263.13 209.80L266.33 209.80L269.60 209.80L272.92 209.80L276.28 209.80L279.66 209.80L283.07 209.80L286.49 209.80L289.90 209.80L293.29 209.80L296.67 209.80L300.00 209.80L303.27 209.80L306.53 209.80L309.80 209.80L313.05 209.80L316.31 209.80L319.56 209.80L322.81 209.80L326.05 209.80L329.30 209.80L332.53 209.80L335.77 209.80L339.00 209.80" stroke="#808080" stroke-width="1.85"/>
</g>
<rect x="29.8" y="5.8" width="323.50" height="213.65" fill="none" stroke="#141414" stroke-width="1.25"/>
<path d="M44.55 219.45v-2.4M97.50 219.45v-2.4M151.50 219.45v-2.4M204.70 219.45v-2.4M258.50 219.45v-2.4M312.40 219.45v-2.4M29.8 210.00h2.4M29.8 167.34h2.4M29.8 124.68h2.4M29.8 82.02h2.4M29.8 39.36h2.4" stroke="#141414" stroke-width="1" fill="none"/>
<g font-size="12.0" text-anchor="middle">
<text x="44.65" y="232.90" textLength="5.6" lengthAdjust="spacingAndGlyphs">0</text>
<text x="98.15" y="232.90" textLength="5.6" lengthAdjust="spacingAndGlyphs">2</text>
<text x="151.65" y="232.90" textLength="5.6" lengthAdjust="spacingAndGlyphs">4</text>
<text x="205.15" y="232.90" textLength="5.6" lengthAdjust="spacingAndGlyphs">6</text>
<text x="258.65" y="232.90" textLength="5.6" lengthAdjust="spacingAndGlyphs">8</text>
<text x="312.15" y="232.90" textLength="11.2" lengthAdjust="spacingAndGlyphs">10</text>
</g>
<g font-size="12.0" text-anchor="end">
<text x="25.10" y="214.40" textLength="5.6" lengthAdjust="spacingAndGlyphs">0</text>
<text x="25.10" y="171.74" textLength="5.6" lengthAdjust="spacingAndGlyphs">2</text>
<text x="25.10" y="129.08" textLength="5.6" lengthAdjust="spacingAndGlyphs">4</text>
<text x="25.10" y="86.42" textLength="5.6" lengthAdjust="spacingAndGlyphs">6</text>
<text x="25.10" y="43.76" textLength="5.6" lengthAdjust="spacingAndGlyphs">8</text>
</g>
<text x="191.4" y="247.85" font-size="11.6" text-anchor="middle" textLength="95.5" lengthAdjust="spacingAndGlyphs">Frequency f / MHz</text>
<text transform="translate(12.0 113.6) rotate(-90)" font-size="11.6" text-anchor="middle" textLength="76.3" lengthAdjust="spacingAndGlyphs">Voltage V / mV</text>
<text x="178.8" y="276.0" font-size="15.5" text-anchor="middle" textLength="16.2" lengthAdjust="spacingAndGlyphs">(<tspan font-weight="bold">a</tspan>)</text>
<rect x="196.3" y="11.1" width="152.60" height="49.50" rx="1.5" fill="#ffffff" fill-opacity="0.8" stroke="#cfcfcf" stroke-width="0.9"/>
<path d="M199.90 20h23.8" stroke="#000000" stroke-width="2.0" fill="none"/>
<path d="M199.90 44.8h23.8" stroke="#808080" stroke-width="1.85" fill="none"/>
<g font-size="11.6">
<text x="231.30" y="24.0" textLength="112" lengthAdjust="spacingAndGlyphs">Experimental spectrum</text>
<text x="231.30" y="40.6" textLength="100.5" lengthAdjust="spacingAndGlyphs">Theoretical spectrum</text>
<text x="231.30" y="54.0" textLength="98.8" lengthAdjust="spacingAndGlyphs">for 941 µm thickness</text>
</g>
</g>
<g id="plot-b">
<g fill="none" stroke-linejoin="round" stroke-linecap="square">
<path d="M441.60 209.50L441.78 209.20L441.96 208.90L442.14 208.61L442.33 208.32L442.53 208.04L442.72 207.76L442.93 207.49L443.13 207.22L443.34 206.96L443.56 206.70L443.78 206.45L444.00 206.20L444.22 205.96L444.46 205.71L444.69 205.46L444.94 205.21L445.18 204.96L445.44 204.72L445.69 204.49L445.95 204.28L446.21 204.08L446.47 203.89L446.74 203.74L447.00 203.60L447.23 203.49L447.47 203.39L447.70 203.28L447.94 203.18L448.18 203.08L448.43 202.99L448.67 202.91L448.92 202.84L449.16 202.78L449.41 202.74L449.65 202.71L449.90 202.70L450.15 202.71L450.40 202.75L450.65 202.80L450.90 202.88L451.15 202.97L451.40 203.07L451.65 203.18L451.91 203.30L452.17 203.42L452.44 203.55L452.72 203.68L453.00 203.80L453.42 204.00L453.85 204.26L454.30 204.57L454.77 204.90L455.25 205.25L455.73 205.60L456.22 205.94L456.71 206.25L457.20 206.51L457.68 206.72L458.14 206.85L458.60 206.90L458.98 206.88L459.35 206.84L459.72 206.77L460.08 206.68L460.44 206.57L460.80 206.45L461.16 206.30L461.52 206.15L461.89 205.99L462.25 205.83L462.62 205.66L463.00 205.50L463.48 205.26L463.97 204.97L464.47 204.63L464.96 204.26L465.46 203.86L465.96 203.44L466.47 203.02L466.97 202.60L467.48 202.18L467.99 201.79L468.49 201.43L469.00 201.10L469.47 200.81L469.95 200.49L470.44 200.17L470.93 199.85L471.42 199.53L471.91 199.23L472.39 198.95L472.87 198.70L473.35 198.49L473.81 198.34L474.26 198.24L474.70 198.20L475.04 198.22L475.37 198.27L475.70 198.35L476.02 198.46L476.33 198.58L476.65 198.73L476.96 198.88L477.26 199.05L477.57 199.22L477.88 199.38L478.19 199.55L478.50 199.70L478.83 199.88L479.17 200.09L479.51 200.32L479.86 200.57L480.20 200.83L480.54 201.08L480.87 201.32L481.20 201.54L481.52 201.73L481.83 201.87L482.12 201.97L482.40 202.00L482.74 201.92L483.07 201.68L483.39 201.31L483.70 200.83L484.01 200.26L484.30 199.63L484.59 198.94L484.87 198.24L485.14 197.53L485.40 196.84L485.65 196.19L485.90 195.60L486.14 195.05L486.37 194.49L486.59 193.93L486.81 193.37L487.02 192.80L487.23 192.23L487.43 191.66L487.63 191.09L487.82 190.51L488.02 189.94L488.21 189.37L488.40 188.80L488.59 188.24L488.77 187.69L488.95 187.13L489.12 186.59L489.30 186.04L489.47 185.49L489.64 184.93L489.81 184.37L489.98 183.79L490.15 183.21L490.32 182.61L490.50 182.00L490.71 181.24L490.93 180.45L491.14 179.64L491.35 178.82L491.56 177.98L491.78 177.13L491.99 176.27L492.21 175.41L492.43 174.55L492.65 173.69L492.87 172.84L493.10 172.00L493.33 171.17L493.57 170.33L493.81 169.50L494.05 168.66L494.29 167.83L494.54 167.00L494.78 166.17L495.03 165.33L495.27 164.50L495.52 163.67L495.76 162.83L496.00 162.00L496.24 161.17L496.49 160.34L496.74 159.52L496.99 158.69L497.25 157.86L497.50 157.04L497.74 156.21L497.98 155.38L498.20 154.54L498.42 153.70L498.62 152.85L498.80 152.00L498.97 151.11L499.14 150.21L499.29 149.30L499.44 148.38L499.58 147.46L499.71 146.54L499.84 145.62L499.97 144.69L500.10 143.77L500.23 142.84L500.36 141.92L500.50 141.00L500.64 140.10L500.77 139.21L500.90 138.35L501.03 137.49L501.16 136.63L501.29 135.76L501.42 134.88L501.55 133.97L501.68 133.04L501.82 132.07L501.96 131.06L502.10 130.00L502.32 128.31L502.55 126.51L502.78 124.61L503.01 122.63L503.25 120.58L503.49 118.46L503.73 116.29L503.98 114.08L504.23 111.83L504.49 109.56L504.74 107.28L505.00 105.00L505.32 102.12L505.65 99.06L505.99 95.86L506.33 92.57L506.68 89.23L507.03 85.87L507.39 82.56L507.74 79.32L508.09 76.20L508.43 73.24L508.77 70.50L509.10 68.00L509.31 66.54L509.52 65.15L509.72 63.82L509.93 62.55L510.14 61.32L510.34 60.12L510.54 58.94L510.74 57.78L510.93 56.61L511.13 55.43L511.32 54.23L511.50 53.00L511.68 51.75L511.85 50.50L512.02 49.24L512.19 47.98L512.35 46.72L512.51 45.47L512.67 44.21L512.83 42.96L513.00 41.71L513.16 40.47L513.33 39.23L513.50 38.00L513.67 36.80L513.84 35.57L514.01 34.33L514.18 33.09L514.35 31.84L514.52 30.61L514.70 29.40L514.88 28.23L515.05 27.09L515.23 26.00L515.42 24.97L515.60 24.00L515.73 23.36L515.85 22.73L515.97 22.11L516.10 21.50L516.22 20.91L516.35 20.34L516.48 19.79L516.62 19.27L516.75 18.77L516.90 18.31L517.04 17.89L517.20 17.50L517.30 17.27L517.41 17.03L517.52 16.79L517.63 16.56L517.75 16.33L517.87 16.11L517.99 15.92L518.12 15.75L518.24 15.60L518.36 15.49L518.48 15.42L518.60 15.40L518.72 15.42L518.84 15.49L518.96 15.60L519.08 15.74L519.19 15.91L519.31 16.10L519.43 16.31L519.55 16.54L519.67 16.78L519.78 17.02L519.89 17.26L520.00 17.50L520.21 18.01L520.42 18.61L520.63 19.30L520.83 20.05L521.03 20.86L521.23 21.71L521.42 22.58L521.61 23.48L521.79 24.38L521.97 25.28L522.14 26.16L522.30 27.00L522.46 27.88L522.62 28.76L522.77 29.65L522.92 30.54L523.06 31.43L523.20 32.34L523.33 33.25L523.47 34.18L523.60 35.11L523.73 36.06L523.87 37.02L524.00 38.00L524.16 39.17L524.31 40.36L524.46 41.58L524.61 42.82L524.76 44.08L524.91 45.35L525.06 46.63L525.21 47.91L525.35 49.19L525.50 50.47L525.65 51.74L525.80 53.00L525.95 54.27L526.11 55.56L526.27 56.86L526.43 58.18L526.59 59.50L526.74 60.80L526.90 62.10L527.05 63.36L527.20 64.59L527.34 65.78L527.47 66.92L527.60 68.00L527.69 68.74L527.77 69.44L527.84 70.11L527.92 70.75L527.99 71.38L528.06 72.00L528.13 72.62L528.20 73.25L528.27 73.89L528.34 74.56L528.42 75.26L528.50 76.00L528.61 77.08L528.73 78.22L528.86 79.41L528.99 80.64L529.11 81.90L529.24 83.19L529.37 84.50L529.50 85.82L529.63 87.13L529.76 88.44L529.88 89.73L530.00 91.00L530.11 92.25L530.22 93.50L530.33 94.75L530.43 96.00L530.53 97.25L530.63 98.50L530.73 99.75L530.83 101.00L530.94 102.25L531.05 103.50L531.17 104.75L531.30 106.00L531.44 107.26L531.58 108.55L531.74 109.85L531.90 111.15L532.06 112.46L532.23 113.76L532.41 115.04L532.59 116.31L532.77 117.54L532.95 118.74L533.12 119.89L533.30 121.00L533.44 121.83L533.57 122.64L533.71 123.44L533.85 124.22L533.99 124.99L534.13 125.74L534.27 126.47L534.42 127.19L534.56 127.89L534.71 128.58L534.85 129.25L535.00 129.90L535.17 129.76L535.34 129.59L535.51 129.40L535.68 129.20L535.85 128.98L536.02 128.74L536.19 128.48L536.35 128.21L536.52 127.92L536.68 127.63L536.84 127.32L537.00 127.00L537.31 126.27L537.62 125.37L537.92 124.34L538.22 123.21L538.52 122.00L538.81 120.73L539.10 119.43L539.40 118.14L539.69 116.87L539.99 115.66L540.29 114.53L540.60 113.50L540.84 112.74L541.09 111.96L541.33 111.19L541.58 110.42L541.83 109.67L542.08 108.93L542.33 108.23L542.58 107.57L542.83 106.96L543.09 106.41L543.34 105.92L543.60 105.50L543.74 105.29L543.88 105.08L544.02 104.88L544.16 104.67L544.30 104.48L544.44 104.30L544.58 104.13L544.72 103.99L544.86 103.87L545.01 103.78L545.15 103.72L545.30 103.70L545.44 103.71L545.58 103.76L545.73 103.82L545.88 103.91L546.02 104.02L546.17 104.14L546.32 104.27L546.46 104.41L546.61 104.56L546.74 104.71L546.87 104.86L547.00 105.00L547.16 105.20L547.31 105.42L547.46 105.66L547.60 105.92L547.74 106.20L547.87 106.49L548.01 106.79L548.14 107.11L548.28 107.44L548.41 107.79L548.55 108.14L548.70 108.50L548.95 109.16L549.21 109.90L549.47 110.72L549.73 111.58L550.00 112.50L550.27 113.44L550.54 114.41L550.81 115.38L551.08 116.35L551.35 117.30L551.63 118.22L551.90 119.10L552.17 119.91L552.44 120.71L552.73 121.50L553.01 122.28L553.30 123.06L553.59 123.83L553.87 124.61L554.15 125.39L554.41 126.18L554.66 126.98L554.89 127.78L555.10 128.60L555.30 129.48L555.48 130.38L555.65 131.30L555.82 132.23L555.97 133.17L556.12 134.11L556.27 135.05L556.42 135.98L556.57 136.89L556.74 137.79L556.91 138.66L557.10 139.50L557.27 140.22L557.46 140.94L557.64 141.66L557.84 142.37L558.04 143.08L558.25 143.77L558.46 144.44L558.68 145.09L558.90 145.72L559.13 146.31L559.36 146.88L559.60 147.40L559.78 147.75L559.96 148.09L560.15 148.42L560.34 148.73L560.54 149.03L560.74 149.32L560.94 149.60L561.15 149.88L561.36 150.16L561.57 150.44L561.79 150.72L562.00 151.00L562.21 151.28L562.44 151.55L562.66 151.82L562.90 152.08L563.13 152.35L563.36 152.61L563.60 152.87L563.83 153.13L564.06 153.39L564.28 153.66L564.49 153.93L564.70 154.20L564.89 154.47L565.08 154.73L565.27 155.00L565.45 155.26L565.63 155.53L565.81 155.80L565.98 156.08L566.15 156.35L566.32 156.63L566.48 156.92L566.64 157.21L566.80 157.50L566.96 157.82L567.12 158.15L567.28 158.48L567.43 158.81L567.58 159.15L567.73 159.49L567.87 159.84L568.02 160.20L568.16 160.56L568.31 160.93L568.45 161.31L568.60 161.70L568.79 162.20L568.97 162.72L569.16 163.26L569.34 163.82L569.53 164.39L569.71 164.96L569.89 165.55L570.08 166.14L570.26 166.73L570.44 167.33L570.62 167.92L570.80 168.50L570.99 169.12L571.17 169.74L571.35 170.38L571.53 171.02L571.70 171.66L571.88 172.31L572.06 172.95L572.24 173.58L572.42 174.21L572.61 174.82L572.80 175.42L573.00 176.00L573.18 176.49L573.36 176.98L573.54 177.46L573.73 177.93L573.92 178.39L574.12 178.85L574.31 179.31L574.51 179.75L574.71 180.20L574.91 180.64L575.10 181.07L575.30 181.50L575.48 181.89L575.66 182.28L575.85 182.66L576.04 183.05L576.23 183.43L576.42 183.80L576.60 184.17L576.79 184.53L576.97 184.89L577.15 185.23L577.33 185.57L577.50 185.90L577.63 186.16L577.76 186.42L577.88 186.69L578.00 186.94L578.12 187.20L578.23 187.45L578.35 187.69L578.47 187.92L578.59 188.14L578.72 188.34L578.86 188.53L579.00 188.70L579.12 188.83L579.24 188.97L579.37 189.11L579.50 189.24L579.64 189.37L579.77 189.49L579.92 189.61L580.06 189.70L580.22 189.79L580.37 189.85L580.53 189.89L580.70 189.90L580.92 189.89L581.15 189.88L581.40 189.85L581.66 189.82L581.92 189.78L582.20 189.73L582.48 189.68L582.76 189.63L583.05 189.57L583.33 189.51L583.62 189.46L583.90 189.40L584.22 189.33L584.55 189.23L584.89 189.12L585.23 189.00L585.58 188.88L585.93 188.76L586.27 188.64L586.61 188.53L586.95 188.44L587.28 188.36L587.59 188.32L587.90 188.30L588.18 188.33L588.46 188.40L588.72 188.51L588.99 188.66L589.25 188.84L589.51 189.04L589.76 189.26L590.01 189.49L590.26 189.72L590.51 189.96L590.75 190.18L591.00 190.40L591.28 190.64L591.55 190.90L591.81 191.18L592.07 191.47L592.33 191.76L592.59 192.07L592.85 192.38L593.12 192.69L593.38 193.00L593.65 193.30L593.92 193.61L594.20 193.90L594.50 194.20L594.81 194.51L595.12 194.82L595.44 195.13L595.75 195.44L596.08 195.74L596.40 196.05L596.72 196.35L597.05 196.64L597.37 196.94L597.69 197.22L598.00 197.50L598.28 197.75L598.56 197.99L598.83 198.23L599.10 198.46L599.36 198.69L599.63 198.92L599.90 199.14L600.18 199.37L600.47 199.60L600.77 199.83L601.08 200.06L601.40 200.30L601.85 200.62L602.35 200.95L602.87 201.29L603.42 201.63L603.99 201.97L604.56 202.32L605.14 202.66L605.71 202.99L606.27 203.31L606.81 203.62L607.32 203.92L607.80 204.20L608.14 204.40L608.47 204.59L608.79 204.77L609.11 204.95L609.41 205.13L609.72 205.30L610.02 205.47L610.31 205.63L610.61 205.80L610.90 205.96L611.20 206.13L611.50 206.30L611.79 206.47L612.07 206.67L612.35 206.87L612.62 207.08L612.90 207.29L613.18 207.49L613.45 207.68L613.73 207.85L614.02 207.99L614.30 208.10L614.60 208.18L614.90 208.20L615.22 208.19L615.54 208.16L615.87 208.12L616.21 208.06L616.54 207.99L616.89 207.92L617.23 207.84L617.58 207.76L617.93 207.69L618.29 207.62L618.64 207.55L619.00 207.50L619.39 207.45L619.78 207.39L620.18 207.34L620.58 207.28L620.98 207.23L621.39 207.17L621.80 207.13L622.21 207.08L622.63 207.05L623.05 207.02L623.47 207.01L623.90 207.00L624.38 207.01L624.87 207.03L625.36 207.07L625.85 207.12L626.35 207.17L626.86 207.23L627.37 207.29L627.88 207.35L628.40 207.40L628.93 207.45L629.46 207.48L630.00 207.50L630.63 207.51L631.27 207.52L631.93 207.53L632.59 207.54L633.26 207.55L633.94 207.55L634.62 207.56L635.30 207.56L635.98 207.57L636.66 207.58L637.34 207.59L638.00 207.60L638.65 207.62L639.30 207.64L639.94 207.67L640.59 207.70L641.24 207.73L641.88 207.77L642.53 207.80L643.17 207.83L643.81 207.86L644.44 207.88L645.07 207.90L645.70 207.90L646.29 207.88L646.88 207.84L647.46 207.78L648.04 207.69L648.62 207.60L649.20 207.50L649.77 207.40L650.35 207.31L650.93 207.22L651.51 207.16L652.10 207.12L652.70 207.10L653.34 207.11L653.98 207.15L654.63 207.21L655.28 207.28L655.93 207.36L656.59 207.45L657.25 207.54L657.91 207.62L658.58 207.69L659.25 207.75L659.92 207.79L660.60 207.80L661.33 207.78L662.06 207.74L662.80 207.68L663.54 207.59L664.29 207.50L665.04 207.40L665.79 207.30L666.55 207.21L667.31 207.12L668.07 207.06L668.83 207.02L669.60 207.00L670.41 207.02L671.22 207.07L672.04 207.14L672.86 207.23L673.69 207.34L674.52 207.45L675.35 207.56L676.18 207.67L677.01 207.76L677.84 207.83L678.67 207.88L679.50 207.90L680.33 207.89L681.16 207.86L681.99 207.81L682.82 207.74L683.65 207.67L684.48 207.60L685.31 207.53L686.15 207.46L686.98 207.39L687.82 207.34L688.66 207.31L689.50 207.30L690.37 207.31L691.24 207.32L692.11 207.35L692.99 207.38L693.87 207.41L694.75 207.45L695.63 207.49L696.51 207.52L697.39 207.55L698.26 207.58L699.13 207.59L700.00 207.60L700.84 207.60L701.68 207.59L702.52 207.58L703.35 207.57L704.18 207.56L705.02 207.55L705.85 207.54L706.68 207.53L707.51 207.52L708.34 207.51L709.17 207.50L710.00 207.50L710.84 207.50L711.68 207.51L712.53 207.53L713.38 207.55L714.22 207.58L715.07 207.60L715.91 207.62L716.75 207.65L717.58 207.67L718.40 207.69L719.21 207.70L720.00 207.70L720.70 207.70L721.39 207.69L722.07 207.68L722.74 207.66L723.40 207.64L724.06 207.62L724.72 207.59L725.38 207.57L726.03 207.55L726.69 207.53L727.34 207.51L728.00 207.50L728.65 207.49L729.29 207.48L729.94 207.47L730.58 207.46L731.23 207.45L731.87 207.44L732.51 207.43L733.15 207.42L733.79 207.42L734.43 207.41L735.06 207.40L735.70 207.40" stroke="#000000" stroke-width="2.0"/>
<path d="M441.60 209.30L442.79 209.30L443.97 209.30L445.13 209.30L446.29 209.30L447.42 209.30L448.55 209.30L449.66 209.30L450.75 209.30L451.84 209.30L452.91 209.30L453.96 209.30L455.00 209.30L455.89 209.30L456.79 209.30L457.68 209.30L458.57 209.30L459.45 209.30L460.31 209.30L461.16 209.30L461.99 209.30L462.79 209.30L463.56 209.30L464.30 209.30L465.00 209.30L465.47 209.30L465.93 209.30L466.37 209.30L466.80 209.29L467.21 209.29L467.62 209.29L468.02 209.28L468.41 209.28L468.81 209.27L469.20 209.26L469.60 209.26L470.00 209.25L470.38 209.24L470.77 209.23L471.15 209.22L471.53 209.20L471.90 209.19L472.28 209.17L472.65 209.14L473.03 209.12L473.40 209.09L473.77 209.06L474.13 209.03L474.50 209.00L474.86 208.96L475.21 208.90L475.57 208.83L475.92 208.75L476.27 208.67L476.62 208.57L476.96 208.46L477.31 208.35L477.66 208.24L478.01 208.13L478.35 208.01L478.70 207.90L479.06 207.78L479.43 207.64L479.81 207.49L480.18 207.33L480.55 207.17L480.93 207.00L481.29 206.84L481.65 206.67L482.01 206.52L482.35 206.37L482.68 206.23L483.00 206.10L483.23 206.01L483.47 205.91L483.70 205.81L483.93 205.71L484.15 205.61L484.37 205.52L484.58 205.43L484.78 205.35L484.98 205.29L485.16 205.24L485.34 205.21L485.50 205.20L485.62 205.21L485.74 205.25L485.85 205.32L485.96 205.40L486.07 205.50L486.17 205.61L486.27 205.73L486.37 205.86L486.46 206.00L486.54 206.13L486.62 206.27L486.70 206.40L486.80 206.58L486.90 206.78L486.99 206.98L487.09 207.21L487.17 207.44L487.26 207.69L487.34 207.95L487.41 208.22L487.48 208.50L487.54 208.79L487.60 209.09L487.65 209.40L487.75 208.77L487.84 208.14L487.94 207.51L488.04 206.89L488.15 206.27L488.25 205.65L488.35 205.04L488.46 204.42L488.57 203.81L488.68 203.21L488.79 202.60L488.90 202.00L489.01 201.43L489.12 200.86L489.23 200.30L489.34 199.74L489.46 199.18L489.58 198.63L489.69 198.08L489.81 197.52L489.93 196.97L490.05 196.41L490.18 195.86L490.30 195.30L490.43 194.73L490.55 194.17L490.69 193.60L490.82 193.03L490.95 192.46L491.09 191.89L491.22 191.32L491.36 190.76L491.49 190.19L491.63 189.62L491.76 189.06L491.90 188.50L492.03 187.96L492.17 187.42L492.30 186.90L492.43 186.37L492.57 185.85L492.70 185.33L492.84 184.80L492.97 184.26L493.10 183.72L493.24 183.16L493.37 182.59L493.50 182.00L493.66 181.25L493.82 180.46L493.98 179.66L494.14 178.84L494.30 177.99L494.46 177.14L494.62 176.28L494.78 175.42L494.93 174.55L495.09 173.69L495.25 172.84L495.40 172.00L495.55 171.17L495.70 170.33L495.85 169.50L496.00 168.67L496.15 167.83L496.30 167.00L496.45 166.17L496.60 165.33L496.75 164.50L496.90 163.67L497.05 162.83L497.20 162.00L497.36 161.17L497.51 160.34L497.67 159.51L497.84 158.68L498.00 157.86L498.16 157.03L498.32 156.20L498.48 155.37L498.64 154.54L498.80 153.70L498.95 152.85L499.10 152.00L499.25 151.10L499.40 150.20L499.55 149.29L499.69 148.38L499.84 147.46L499.98 146.54L500.12 145.61L500.26 144.69L500.40 143.76L500.53 142.84L500.67 141.92L500.80 141.00L500.93 140.10L501.06 139.22L501.18 138.35L501.30 137.49L501.42 136.63L501.54 135.76L501.66 134.88L501.78 133.97L501.91 133.04L502.03 132.07L502.16 131.06L502.30 130.00L502.51 128.31L502.73 126.51L502.96 124.61L503.19 122.63L503.43 120.58L503.68 118.46L503.92 116.29L504.17 114.08L504.43 111.83L504.68 109.56L504.94 107.28L505.20 105.00L505.52 102.12L505.85 99.06L506.19 95.86L506.53 92.57L506.88 89.23L507.23 85.87L507.59 82.56L507.94 79.32L508.29 76.20L508.63 73.24L508.97 70.50L509.30 68.00L509.51 66.54L509.71 65.15L509.91 63.82L510.11 62.55L510.31 61.32L510.51 60.12L510.71 58.94L510.91 57.77L511.10 56.61L511.30 55.43L511.50 54.23L511.70 53.00L511.90 51.74L512.09 50.47L512.29 49.19L512.48 47.91L512.68 46.62L512.87 45.35L513.07 44.07L513.27 42.82L513.47 41.58L513.67 40.36L513.88 39.16L514.10 38.00L514.29 37.01L514.48 36.02L514.67 35.03L514.87 34.05L515.06 33.09L515.27 32.14L515.47 31.20L515.68 30.30L515.90 29.42L516.13 28.58L516.36 27.77L516.60 27.00L516.79 26.45L516.98 25.90L517.17 25.35L517.38 24.82L517.59 24.30L517.80 23.80L518.02 23.32L518.25 22.86L518.48 22.42L518.71 22.02L518.95 21.64L519.20 21.30L519.39 21.06L519.58 20.81L519.79 20.56L520.00 20.31L520.22 20.07L520.44 19.85L520.66 19.64L520.88 19.46L521.09 19.31L521.30 19.20L521.51 19.13L521.70 19.10L521.85 19.11L521.99 19.15L522.13 19.21L522.27 19.29L522.41 19.39L522.55 19.50L522.69 19.63L522.82 19.76L522.94 19.89L523.07 20.03L523.19 20.17L523.30 20.30L523.44 20.49L523.58 20.69L523.72 20.92L523.85 21.16L523.97 21.42L524.10 21.69L524.22 21.97L524.34 22.27L524.45 22.57L524.57 22.88L524.68 23.19L524.80 23.50L524.96 23.95L525.12 24.43L525.28 24.93L525.43 25.45L525.59 25.99L525.74 26.54L525.89 27.11L526.04 27.68L526.18 28.26L526.32 28.85L526.46 29.42L526.60 30.00L526.75 30.63L526.89 31.25L527.04 31.88L527.18 32.51L527.32 33.15L527.46 33.79L527.60 34.45L527.73 35.12L527.85 35.81L527.98 36.52L528.09 37.25L528.20 38.00L528.34 39.08L528.47 40.21L528.60 41.40L528.72 42.63L528.84 43.90L528.95 45.19L529.06 46.50L529.17 47.81L529.28 49.13L529.39 50.44L529.49 51.73L529.60 53.00L529.71 54.27L529.81 55.56L529.92 56.86L530.02 58.18L530.13 59.50L530.23 60.80L530.33 62.10L530.43 63.36L530.52 64.59L530.62 65.78L530.71 66.92L530.80 68.00L530.86 68.74L530.93 69.44L530.99 70.11L531.05 70.75L531.10 71.38L531.16 72.00L531.22 72.62L531.28 73.25L531.33 73.89L531.39 74.56L531.44 75.26L531.50 76.00L531.58 77.08L531.66 78.22L531.74 79.41L531.82 80.64L531.90 81.90L531.98 83.19L532.05 84.50L532.13 85.82L532.20 87.13L532.27 88.44L532.34 89.73L532.40 91.00L532.46 92.25L532.52 93.50L532.57 94.75L532.62 96.00L532.67 97.25L532.72 98.50L532.77 99.75L532.82 101.00L532.86 102.25L532.91 103.50L532.95 104.75L533.00 106.00L533.05 107.25L533.09 108.50L533.14 109.75L533.18 111.00L533.23 112.25L533.27 113.50L533.31 114.75L533.36 116.00L533.39 117.25L533.43 118.50L533.47 119.75L533.50 121.00L533.53 122.25L533.56 123.49L533.59 124.74L533.61 125.98L533.64 127.23L533.66 128.47L533.68 129.72L533.71 130.96L533.73 132.22L533.75 133.47L533.78 134.73L533.80 136.00L533.83 137.31L533.85 138.60L533.88 139.90L533.91 141.19L533.94 142.49L533.97 143.79L534.00 145.11L534.03 146.44L534.05 147.79L534.07 149.17L534.09 150.57L534.10 152.00L534.11 153.76L534.12 155.57L534.13 157.41L534.14 159.29L534.15 161.20L534.16 163.13L534.16 165.09L534.17 167.06L534.18 169.04L534.19 171.02L534.19 173.01L534.20 175.00L534.21 177.14L534.22 179.29L534.23 181.45L534.23 183.62L534.24 185.81L534.25 188.01L534.26 190.23L534.27 192.46L534.28 194.70L534.28 196.95L534.29 199.22L534.30 201.50L534.31 199.22L534.32 196.95L534.33 194.70L534.34 192.46L534.36 190.23L534.38 188.01L534.39 185.81L534.41 183.62L534.43 181.45L534.46 179.29L534.48 177.14L534.50 175.00L534.52 173.01L534.55 171.02L534.57 169.04L534.60 167.05L534.63 165.08L534.66 163.13L534.69 161.20L534.73 159.29L534.76 157.41L534.81 155.57L534.85 153.76L534.90 152.00L534.95 150.57L535.01 149.16L535.09 147.79L535.17 146.44L535.26 145.11L535.35 143.79L535.45 142.49L535.54 141.19L535.64 139.90L535.73 138.60L535.82 137.31L535.90 136.00L535.97 134.73L536.05 133.47L536.12 132.22L536.19 130.96L536.26 129.72L536.33 128.47L536.40 127.23L536.47 125.98L536.53 124.74L536.59 123.49L536.65 122.25L536.70 121.00L536.75 119.75L536.80 118.49L536.85 117.23L536.89 115.96L536.94 114.70L536.98 113.43L537.02 112.17L537.06 110.92L537.10 109.67L537.13 108.44L537.17 107.21L537.20 106.00L537.23 104.87L537.25 103.72L537.27 102.56L537.29 101.40L537.31 100.25L537.33 99.11L537.35 98.00L537.38 96.91L537.40 95.86L537.43 94.85L537.46 93.90L537.50 93.00L537.53 92.42L537.57 91.84L537.62 91.28L537.67 90.73L537.73 90.20L537.80 89.69L537.87 89.19L537.95 88.71L538.03 88.25L538.12 87.81L538.21 87.39L538.30 87.00L538.37 86.73L538.45 86.44L538.55 86.15L538.65 85.86L538.75 85.57L538.87 85.31L538.99 85.06L539.11 84.84L539.23 84.66L539.35 84.52L539.48 84.43L539.60 84.40L539.71 84.42L539.82 84.47L539.94 84.55L540.06 84.66L540.18 84.79L540.30 84.94L540.43 85.11L540.55 85.28L540.67 85.46L540.79 85.64L540.90 85.82L541.00 86.00L541.15 86.28L541.29 86.59L541.43 86.93L541.56 87.29L541.68 87.67L541.81 88.08L541.93 88.49L542.06 88.92L542.19 89.36L542.32 89.81L542.46 90.25L542.60 90.70L542.80 91.31L543.01 91.95L543.23 92.61L543.46 93.30L543.69 94.00L543.93 94.72L544.16 95.45L544.40 96.17L544.63 96.90L544.86 97.61L545.08 98.31L545.30 99.00L545.50 99.63L545.70 100.26L545.89 100.87L546.08 101.49L546.27 102.10L546.46 102.70L546.65 103.32L546.84 103.93L547.03 104.56L547.22 105.19L547.41 105.84L547.60 106.50L547.82 107.28L548.05 108.07L548.27 108.88L548.49 109.70L548.72 110.53L548.94 111.38L549.17 112.22L549.39 113.07L549.62 113.93L549.85 114.79L550.07 115.65L550.30 116.50L550.54 117.39L550.78 118.29L551.01 119.19L551.25 120.09L551.49 121.00L551.73 121.91L551.97 122.83L552.21 123.75L552.46 124.67L552.70 125.61L552.95 126.55L553.20 127.50L553.48 128.56L553.75 129.65L554.04 130.76L554.32 131.89L554.61 133.03L554.90 134.17L555.19 135.30L555.48 136.41L555.76 137.49L556.05 138.54L556.33 139.55L556.60 140.50L556.81 141.20L557.01 141.88L557.22 142.54L557.42 143.18L557.62 143.81L557.82 144.43L558.02 145.04L558.22 145.64L558.42 146.23L558.61 146.82L558.81 147.41L559.00 148.00L559.17 148.52L559.34 149.03L559.50 149.54L559.67 150.03L559.83 150.53L559.99 151.01L560.15 151.50L560.32 151.99L560.48 152.49L560.65 152.98L560.82 153.49L561.00 154.00L561.19 154.57L561.39 155.14L561.59 155.72L561.79 156.31L562.00 156.90L562.21 157.49L562.42 158.08L562.63 158.67L562.84 159.26L563.06 159.85L563.28 160.43L563.50 161.00L563.72 161.55L563.94 162.10L564.17 162.64L564.40 163.17L564.63 163.71L564.87 164.24L565.11 164.77L565.35 165.31L565.58 165.85L565.82 166.39L566.06 166.94L566.30 167.50L566.55 168.11L566.81 168.72L567.06 169.35L567.32 169.98L567.57 170.62L567.83 171.26L568.08 171.89L568.34 172.53L568.60 173.16L568.87 173.78L569.13 174.40L569.40 175.00L569.66 175.56L569.91 176.12L570.17 176.68L570.43 177.23L570.70 177.78L570.96 178.33L571.23 178.87L571.50 179.41L571.77 179.94L572.05 180.46L572.32 180.98L572.60 181.50L572.87 181.98L573.15 182.45L573.44 182.91L573.73 183.37L574.02 183.82L574.31 184.27L574.60 184.72L574.89 185.17L575.16 185.62L575.42 186.08L575.67 186.54L575.90 187.00L576.11 187.45L576.31 187.90L576.50 188.35L576.69 188.80L576.87 189.25L577.05 189.70L577.22 190.16L577.38 190.62L577.54 191.08L577.70 191.55L577.85 192.02L578.00 192.50L578.15 193.01L578.31 193.53L578.46 194.05L578.60 194.57L578.74 195.09L578.88 195.62L579.01 196.16L579.14 196.71L579.27 197.26L579.38 197.83L579.49 198.41L579.60 199.00L579.72 199.74L579.84 200.49L579.96 201.27L580.07 202.05L580.18 202.86L580.29 203.67L580.39 204.51L580.48 205.36L580.57 206.22L580.65 207.10L580.73 207.99L580.80 208.90L580.83 208.27L580.87 207.66L580.93 207.06L581.00 206.48L581.09 205.92L581.18 205.37L581.29 204.84L581.40 204.34L581.52 203.85L581.64 203.38L581.77 202.93L581.90 202.50L582.01 202.17L582.13 201.82L582.26 201.46L582.41 201.10L582.57 200.75L582.74 200.42L582.92 200.12L583.10 199.85L583.29 199.62L583.49 199.45L583.69 199.34L583.90 199.30L584.10 199.32L584.32 199.36L584.56 199.43L584.80 199.53L585.05 199.64L585.32 199.76L585.59 199.90L585.86 200.04L586.15 200.19L586.43 200.33L586.71 200.47L587.00 200.60L587.36 200.76L587.74 200.93L588.12 201.11L588.51 201.29L588.91 201.48L589.32 201.67L589.73 201.86L590.14 202.05L590.56 202.25L590.97 202.44L591.39 202.62L591.80 202.80L592.23 202.98L592.66 203.17L593.09 203.35L593.53 203.53L593.97 203.71L594.41 203.89L594.85 204.07L595.29 204.24L595.72 204.41L596.15 204.58L596.58 204.74L597.00 204.90L597.37 205.04L597.74 205.17L598.10 205.31L598.46 205.44L598.81 205.56L599.16 205.69L599.52 205.81L599.88 205.93L600.24 206.05L600.62 206.17L601.00 206.29L601.40 206.40L601.90 206.54L602.41 206.68L602.94 206.81L603.48 206.95L604.03 207.08L604.59 207.22L605.16 207.34L605.73 207.47L606.30 207.59L606.87 207.70L607.44 207.80L608.00 207.90L608.57 207.99L609.14 208.08L609.70 208.17L610.27 208.26L610.84 208.34L611.41 208.42L611.98 208.49L612.57 208.57L613.16 208.63L613.76 208.69L614.37 208.75L615.00 208.80L615.76 208.86L616.51 208.92L617.27 208.97L618.04 209.03L618.83 209.08L619.63 209.13L620.45 209.17L621.29 209.21L622.17 209.25L623.07 209.27L624.02 209.29L625.00 209.30L626.64 209.31L628.38 209.32L630.22 209.32L632.15 209.33L634.17 209.33L636.25 209.34L638.41 209.34L640.63 209.34L642.91 209.35L645.23 209.35L647.60 209.35L650.00 209.35L653.57 209.35L657.39 209.35L661.44 209.35L665.66 209.35L670.00 209.35L674.42 209.35L678.87 209.35L683.31 209.35L687.68 209.35L691.96 209.35L696.08 209.35L700.00 209.35L703.20 209.35L706.36 209.35L709.47 209.35L712.55 209.35L715.59 209.35L718.59 209.35L721.54 209.35L724.46 209.35L727.33 209.35L730.16 209.35L732.95 209.35L735.70 209.35" stroke="#808080" stroke-width="1.85"/>
</g>
<rect x="426.85" y="5.7" width="322.75" height="213.20" fill="none" stroke="#141414" stroke-width="1.25"/>
<path d="M441.45 218.9v-2.4M494.79 218.9v-2.4M548.13 218.9v-2.4M601.47 218.9v-2.4M654.81 218.9v-2.4M708.15 218.9v-2.4M426.85 209.30h2.4M426.85 184.86h2.4M426.85 160.42h2.4M426.85 135.98h2.4M426.85 111.54h2.4M426.85 87.10h2.4M426.85 62.66h2.4M426.85 38.22h2.4M426.85 13.78h2.4" stroke="#141414" stroke-width="1" fill="none"/>
<g font-size="12.0" text-anchor="middle">
<text x="441.45" y="232.35" textLength="5.6" lengthAdjust="spacingAndGlyphs">0</text>
<text x="494.79" y="232.35" textLength="5.6" lengthAdjust="spacingAndGlyphs">2</text>
<text x="548.13" y="232.35" textLength="5.6" lengthAdjust="spacingAndGlyphs">4</text>
<text x="601.47" y="232.35" textLength="5.6" lengthAdjust="spacingAndGlyphs">6</text>
<text x="654.81" y="232.35" textLength="5.6" lengthAdjust="spacingAndGlyphs">8</text>
<text x="708.15" y="232.35" textLength="11.2" lengthAdjust="spacingAndGlyphs">10</text>
</g>
<g font-size="12.0" text-anchor="end">
<text x="422.15" y="214.20" textLength="5.6" lengthAdjust="spacingAndGlyphs">0</text>
<text x="422.15" y="189.76" textLength="5.6" lengthAdjust="spacingAndGlyphs">1</text>
<text x="422.15" y="165.32" textLength="5.6" lengthAdjust="spacingAndGlyphs">2</text>
<text x="422.15" y="140.88" textLength="5.6" lengthAdjust="spacingAndGlyphs">3</text>
<text x="422.15" y="116.44" textLength="5.6" lengthAdjust="spacingAndGlyphs">4</text>
<text x="422.15" y="92.00" textLength="5.6" lengthAdjust="spacingAndGlyphs">5</text>
<text x="422.15" y="67.56" textLength="5.6" lengthAdjust="spacingAndGlyphs">6</text>
<text x="422.15" y="43.12" textLength="5.6" lengthAdjust="spacingAndGlyphs">7</text>
<text x="422.15" y="18.68" textLength="5.6" lengthAdjust="spacingAndGlyphs">8</text>
</g>
<text x="588.0" y="247.30" font-size="11.6" text-anchor="middle" textLength="95.5" lengthAdjust="spacingAndGlyphs">Frequency f / MHz</text>
<text transform="translate(408.5 112.85) rotate(-90)" font-size="11.6" text-anchor="middle" textLength="76.7" lengthAdjust="spacingAndGlyphs">Voltage V / mV</text>
<text x="575.3" y="276.0" font-size="15.5" text-anchor="middle" textLength="18.4" lengthAdjust="spacingAndGlyphs">(<tspan font-weight="bold">b</tspan>)</text>
<rect x="592.7" y="11.1" width="152.10" height="49.50" rx="1.5" fill="#ffffff" fill-opacity="0.8" stroke="#cfcfcf" stroke-width="0.9"/>
<path d="M596.30 20h23.8" stroke="#000000" stroke-width="2.0" fill="none"/>
<path d="M596.30 44.8h23.8" stroke="#808080" stroke-width="1.85" fill="none"/>
<g font-size="11.6">
<text x="627.70" y="24.0" textLength="112" lengthAdjust="spacingAndGlyphs">Experimental spectrum</text>
<text x="627.70" y="40.6" textLength="100.5" lengthAdjust="spacingAndGlyphs">Theoretical spectrum</text>
<text x="627.70" y="54.0" textLength="98.8" lengthAdjust="spacingAndGlyphs">for 418 µm thickness</text>
</g>
</g>
</svg>
</body></html>
